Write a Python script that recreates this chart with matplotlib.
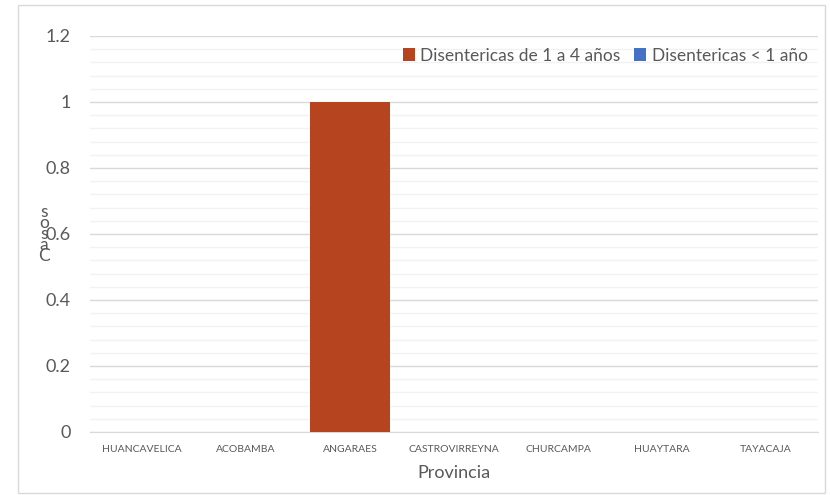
import matplotlib.pyplot as plt
from matplotlib.patches import Rectangle
from matplotlib.ticker import MultipleLocator

plt.rcParams['font.family'] = ['Lato', 'DejaVu Sans']

# datos
provincias = ['HUANCAVELICA', 'ACOBAMBA', 'ANGARAES', 'CASTROVIRREYNA',
              'CHURCAMPA', 'HUAYTARA', 'TAYACAJA']
dis_1_4 = [0, 0, 1, 0, 0, 0, 0]
dis_menor_1 = [0, 0, 0, 0, 0, 0, 0]

naranja = '#B5441F'
azul = '#4472C4'
gris = '#595959'

fig = plt.figure(figsize=(8.3, 4.95), dpi=100)
ax = fig.add_axes([90 / 830, 1 - 432 / 495, 728 / 830, 396 / 495])

# marco del grafico
fig.patches.append(Rectangle((18 / 830, 2 / 495), 807 / 830, 488 / 495,
                             transform=fig.transFigure, fill=False,
                             edgecolor='#d9d9d9', linewidth=1))

x = range(len(provincias))
ax.bar(x, dis_1_4, width=0.76, color=naranja, label='Disentericas de 1 a 4 años', zorder=3)
ax.bar(x, dis_menor_1, width=0.76, bottom=dis_1_4, color=azul,
       label='Disentericas < 1 año', zorder=3)

ax.set_xlim(-0.5, len(provincias) - 0.5)
ax.set_ylim(0, 1.2)
ax.yaxis.set_major_locator(MultipleLocator(0.2))
ax.yaxis.set_minor_locator(MultipleLocator(0.04))
ax.grid(True, axis='y', which='major', color='#d9d9d9', linewidth=1, zorder=0)
ax.grid(True, axis='y', which='minor', color='#f2f2f2', linewidth=1, zorder=0)
ax.set_axisbelow(True)

for s in ['top', 'right', 'left']:
    ax.spines[s].set_visible(False)
ax.spines['bottom'].set_color('#d9d9d9')

ax.set_xticks(list(x))
ax.set_xticklabels(provincias, fontsize=7.5, color=gris)
ax.set_yticks([0, 0.2, 0.4, 0.6, 0.8, 1, 1.2])
ax.set_yticklabels(['0', '0.2', '0.4', '0.6', '0.8', '1', '1.2'], fontsize=13, color=gris)
ax.tick_params(axis='both', which='both', length=0)
ax.tick_params(axis='y', pad=14)
ax.tick_params(axis='x', pad=9)

ax.set_xlabel('Provincia', fontsize=13, color=gris, labelpad=8)

# etiqueta vertical apilada
fig.text(44 / 830, 1 - 234 / 495, 's\no\ns\na\nC', fontsize=12.5, color=gris,
         ha='center', va='center', linespacing=0.6)

ax.legend(loc='upper right', bbox_to_anchor=(1.0, 0.997), ncol=2, frameon=False,
          fontsize=12.5, labelcolor=gris, handlelength=0.7, handleheight=0.7,
          handletextpad=0.3, columnspacing=0.8, borderaxespad=0.2)

plt.savefig('out.png', dpi=100)
